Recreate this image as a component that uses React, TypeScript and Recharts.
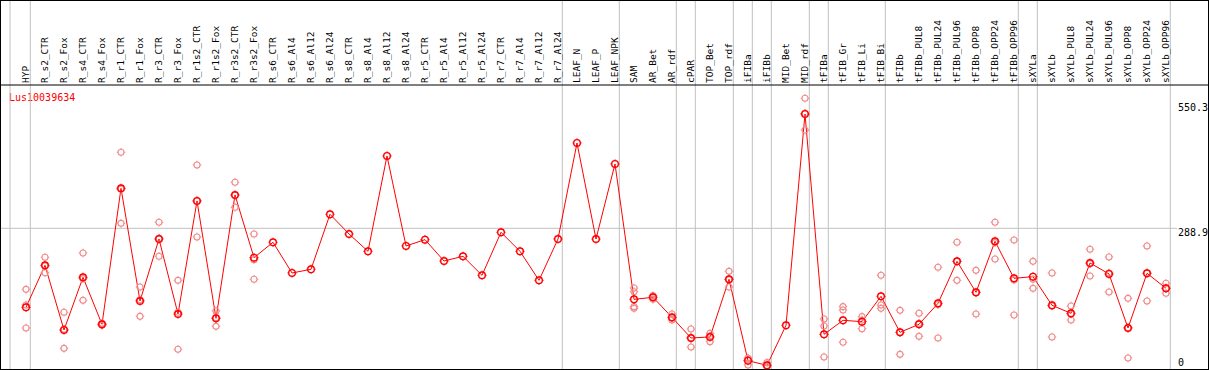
import React from 'react';
import { ComposedChart, Line, Scatter, XAxis, YAxis, ReferenceLine, Customized } from 'recharts';

const CATEGORIES = [
    'HYP', 'R_s2_CTR', 'R_s2_Fox', 'R_s4_CTR', 'R_s4_Fox', 'R_r1_CTR', 'R_r1_Fox', 'R_r3_CTR', 'R_r3_Fox',
    'R_r1s2_CTR', 'R_r1s2_Fox', 'R_r3s2_CTR', 'R_r3s2_Fox', 'R_s6_CTR', 'R_s6_Al4', 'R_s6_Al12', 'R_s6_Al24',
    'R_s8_CTR', 'R_s8_Al4', 'R_s8_Al12', 'R_s8_Al24', 'R_r5_CTR', 'R_r5_Al4', 'R_r5_Al12', 'R_r5_Al24',
    'R_r7_CTR', 'R_r7_Al4', 'R_r7_Al12', 'R_r7_Al24', 'LEAF_N', 'LEAF_P', 'LEAF_NPK', 'SAM', 'AR_Bet', 'AR_rdf',
    'cPAR', 'TOP_Bet', 'TOP_rdf', 'iFIBa', 'iFIBb', 'MID_Bet', 'MID_rdf', 'tFIBa', 'tFIB_Gr', 'tFIB_Li', 'tFIB_Bi',
    'tFIBb', 'tFIBb_PUL8', 'tFIBb_PUL24', 'tFIBb_PUL96', 'tFIBb_OPP8', 'tFIBb_OPP24', 'tFIBb_OPP96',
    'sXYLa', 'sXYLb', 'sXYLb_PUL8', 'sXYLb_PUL24', 'sXYLb_PUL96', 'sXYLb_OPP8', 'sXYLb_OPP24', 'sXYLb_OPP96',
];

// mean expression per sample
const MEANS = [
    130.0, 214.5, 84.5, 190.4, 95.9, 369.3, 142.8, 267.4, 116.6, 343.9, 107.9, 355.9, 229.9,
    260.8, 199.1, 206.5, 317.1, 277.5, 242.7, 434.4, 253.4, 266.1, 223.2, 232.6, 194.4, 280.9,
    242.7, 184.3, 267.4, 460.5, 267.4, 418.3, 146.1, 150.2, 109.9, 68.4, 70.4, 186.4, 22.8, 13.4,
    93.8, 518.8, 75.7, 103.9, 101.2, 152.2, 79.8, 95.9, 138.1, 222.5, 160.2, 262.8, 188.4, 191.7,
    134.1, 118.0, 219.2, 197.1, 88.5, 198.4, 168.3,
];

// individual replicates (empty where only one value exists)
const REPLICATES: number[][] = [
    [166.2, 134.7, 88.5], [230.6, 213.2, 199.7], [120.0, 85.8, 47.6], [239.3, 187.7, 144.1],
    [97.9, 95.9, 93.8], [441.7, 367.3, 298.9], [170.9, 145.4, 111.9], [301.0, 268.8, 232.6],
    [184.3, 120.0, 45.6], [416.3, 343.9, 271.5], [122.7, 109.3, 91.8], [381.4, 355.3, 331.1],
    [277.5, 225.9, 186.4],
    [], [], [], [], [], [], [], [], [], [], [], [], [], [], [], [], [], [], [],
    [168.9, 161.5, 131.4, 128.0], [153.5, 150.2, 146.1], [116.6, 107.9, 104.6], [86.5, 68.4, 50.3],
    [77.8, 72.4, 61.0], [202.4, 185.7, 170.9], [28.2, 26.1, 14.1], [18.8, 12.1, 10.7],
    [],
    [550.3, 519.5, 486.6], [106.6, 92.5, 30.2], [131.4, 124.7, 59.7], [111.3, 104.6, 87.1],
    [194.4, 134.7, 128.0], [124.0, 79.8, 35.5], [118.0, 97.9, 71.7], [210.5, 135.4, 68.4],
    [260.8, 222.5, 184.3], [204.4, 159.5, 116.6], [301.0, 260.1, 227.2], [265.4, 185.0, 114.6],
    [222.5, 186.4, 168.2], [199.1, 132.7, 70.4], [132.7, 116.6, 104.6], [246.7, 217.9, 193.0],
    [231.3, 199.1, 160.9], [148.1, 89.1, 28.2], [253.4, 199.1, 142.8], [178.3, 168.2, 158.2],
];

// last sample of each group -> grey separator after it
const GROUP_ENDS = [0, 28, 31, 34, 35, 37, 38, 39, 41, 42, 45, 52, 53, 60];
const Y_TICKS = [0, 288.9, 550.3];
const GENE = 'Lus10039634';

const W = 1209;
const H = 370;
const CHART_H = 372;
const PLOT_TOP = 1; // height of the (invisible) top axis
const PLOT_RIGHT = W - 1; // width of the (invisible) right axis
const X0 = 26; // pixel of first sample
const STEP = 19; // pixels between samples
const Y_MAX_PX = 98.3; // pixel of 550.3
const Y_TOP = 550.3 * (CHART_H - PLOT_TOP) / (CHART_H - Y_MAX_PX);
const HEADER_Y = 85;
const MONO = '"DejaVu Sans Mono", "Liberation Mono", monospace';

const chartData = CATEGORIES.map((name, i) => ({ idx: i, name, mean: MEANS[i] }));
const repData = REPLICATES.flatMap((vals, i) => vals.map(v => ({ idx: i, v })));

const pxToIdx = (px: number) => (px - X0) / STEP;
const pxToVal = (py: number) => (CHART_H - py) / (CHART_H - PLOT_TOP) * Y_TOP;

const Ring = ({ cx, cy, r, color, sw }: { cx: number; cy: number; r: number; color: string; sw: number }) => {
    const t = r + 1.3;
    return (
        <g>
            <circle cx={cx} cy={cy} r={r} fill="none" stroke={color} strokeWidth={sw} />
            <line x1={cx} y1={cy - t} x2={cx} y2={cy - r} stroke={color} strokeWidth={1} />
            <line x1={cx} y1={cy + t} x2={cx} y2={cy + r} stroke={color} strokeWidth={1} />
            <line x1={cx - t} y1={cy} x2={cx - r} y2={cy} stroke={color} strokeWidth={1} />
            <line x1={cx + t} y1={cy} x2={cx + r} y2={cy} stroke={color} strokeWidth={1} />
        </g>
    );
};

const CategoryTick = (props: any) => {
    const { x, payload } = props;
    return (
        <text
            transform={`translate(${x + 3.2},83) rotate(-90)`}
            fontFamily={MONO}
            fontSize={9.5}
            fill="#000"
            textAnchor="start"
        >
            {CATEGORIES[payload.value]}
        </text>
    );
};

const ValueTick = (props: any) => {
    const { y, payload } = props;
    const base = Math.min(Math.max(y + 8, 111), 366);
    return (
        <text x={1178} y={base} fontFamily={MONO} fontSize={10} fill="#000">
            {payload.value}
        </text>
    );
};

export default function App() {
    return (
        <div style={{ position: 'absolute', left: 0, top: 0, width: W, height: H, overflow: 'hidden', background: '#fff' }}>
            <ComposedChart width={W} height={CHART_H} data={chartData} margin={{ top: 0, right: 0, bottom: 0, left: 0 }}>
                <XAxis
                    dataKey="idx"
                    type="number"
                    orientation="top"
                    height={PLOT_TOP}
                    domain={[pxToIdx(0), pxToIdx(PLOT_RIGHT)]}
                    ticks={CATEGORIES.map((_, i) => i)}
                    interval={0}
                    axisLine={false}
                    tickLine={false}
                    tick={<CategoryTick />}
                />
                <YAxis
                    type="number"
                    orientation="right"
                    width={W - PLOT_RIGHT}
                    domain={[0, Y_TOP]}
                    ticks={Y_TICKS}
                    interval={0}
                    axisLine={false}
                    tickLine={false}
                    tick={<ValueTick />}
                />
                <ReferenceLine x={pxToIdx(10)} stroke="#c0c0c0" strokeWidth={1} />
                {GROUP_ENDS.map(i => (
                    <ReferenceLine key={`sep-${i}`} x={i + 4.3 / STEP} stroke="#c0c0c0" strokeWidth={1} />
                ))}
                <ReferenceLine
                    segment={[{ x: pxToIdx(0), y: 288.9 }, { x: pxToIdx(1177), y: 288.9 }]}
                    stroke="#c0c0c0"
                    strokeWidth={1}
                />
                <ReferenceLine y={pxToVal(HEADER_Y)} stroke="#000" strokeWidth={1} />
                <Scatter
                    data={repData}
                    dataKey="v"
                    isAnimationActive={false}
                    shape={(p: any) => <Ring cx={p.cx} cy={p.cy} r={3} color="#f08c8c" sw={1.1} />}
                />
                <Line
                    dataKey="mean"
                    stroke="#ff0000"
                    strokeWidth={1}
                    isAnimationActive={false}
                    dot={(p: any) => <Ring key={`d-${p.index}`} cx={p.cx} cy={p.cy} r={3.3} color="#ff0000" sw={1.4} />}
                />
                <Customized
                    component={() => (
                        <text x={9} y={100.5} fontFamily={MONO} fontSize={10} fill="#ff0000">
                            {GENE}
                        </text>
                    )}
                />
            </ComposedChart>
            <div
                style={{
                    position: 'absolute', left: 0, top: 0, width: W, height: H,
                    boxSizing: 'border-box', border: '1px solid #000', pointerEvents: 'none',
                }}
            />
        </div>
    );
}
